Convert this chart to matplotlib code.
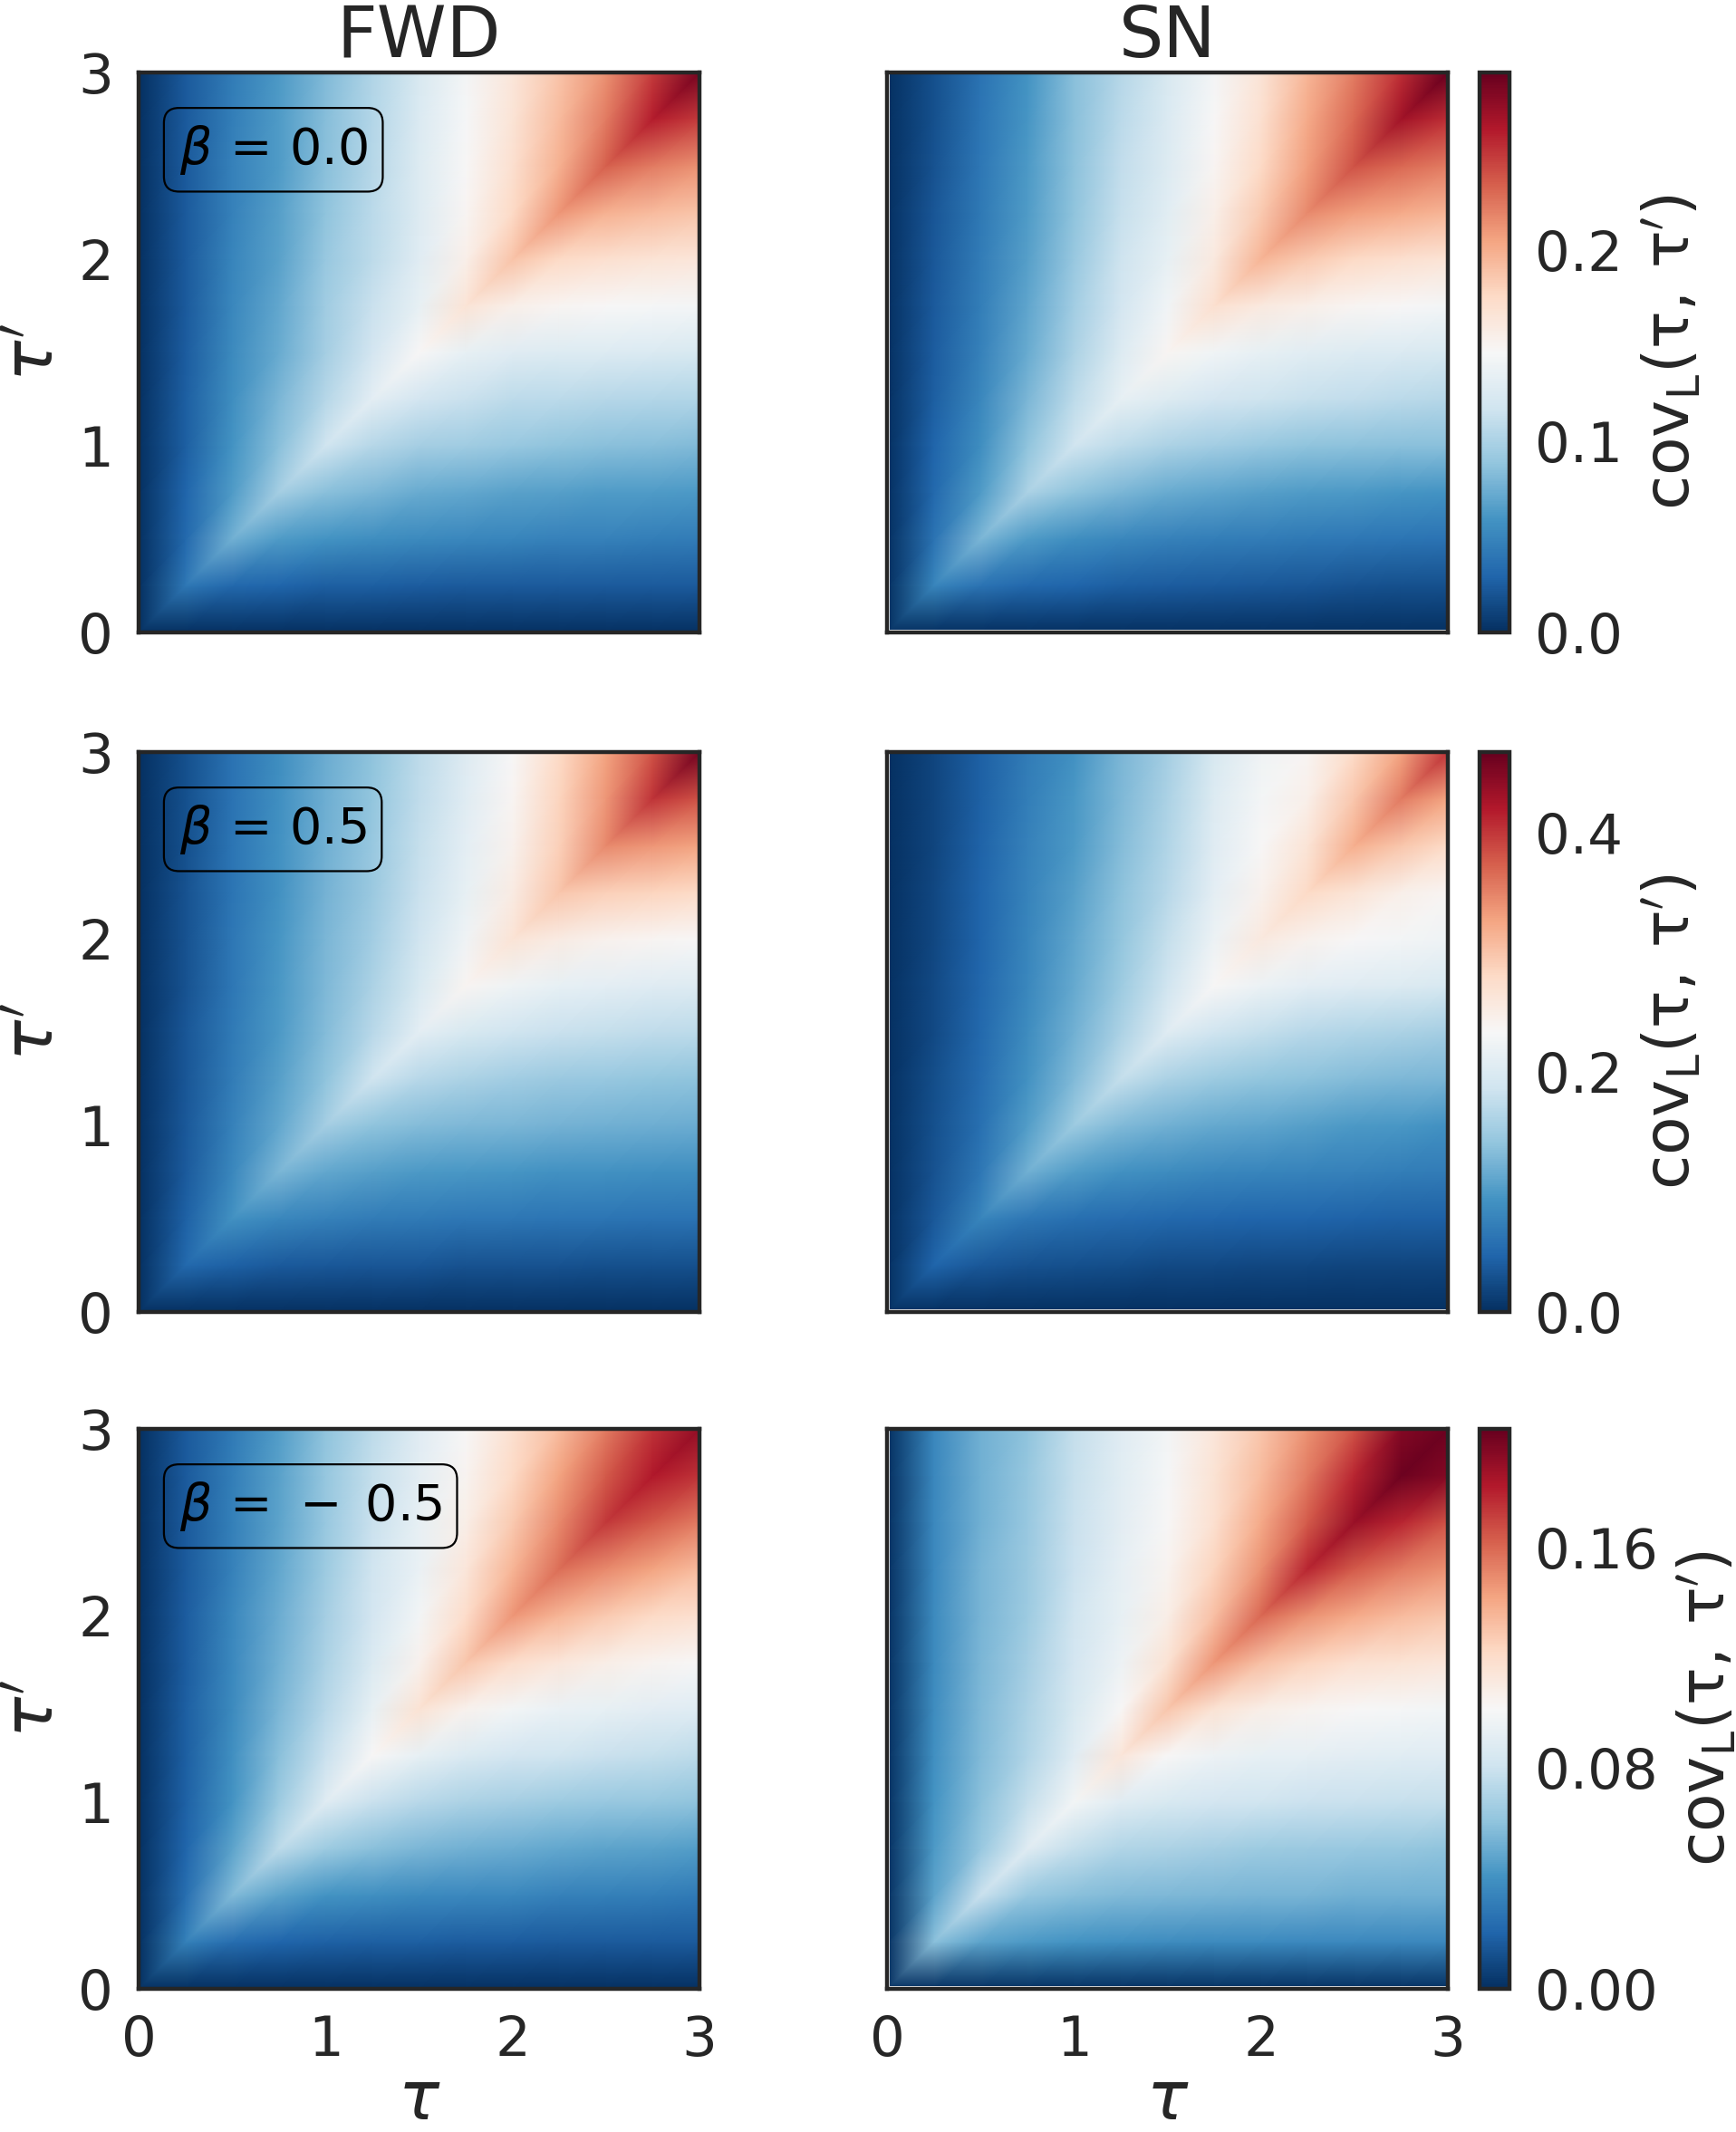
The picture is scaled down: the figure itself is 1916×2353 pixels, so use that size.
import numpy as np
import matplotlib
matplotlib.use("Agg")
import matplotlib.pyplot as plt
import matplotlib.tri as mtri
from matplotlib.patches import Rectangle
from matplotlib.ticker import FormatStrFormatter

# ---------------- data ----------------
tau_grid = [0.0, 0.25, 0.5, 0.75, 1.0, 1.25, 1.5, 1.75, 2.0, 2.25, 2.5, 2.75, 3.0]
col_titles = ["FWD", "SN"]
beta_labels = [r"$\beta\,=\,0.0$", r"$\beta\,=\,0.5$", r"$\beta\,=\,-\;0.5$"]
tick_vals = [0, 1, 2, 3]
vmax_rows = [0.293, 0.467, 0.203]
cbar_ticks = [[0.0, 0.1, 0.2], [0.0, 0.2, 0.4], [0.00, 0.08, 0.16]]
cbar_fmt = ["%.1f", "%.1f", "%.2f"]

# upper triangles: row i gives cov(tau_i, tau') for tau' = tau_i ... 3
cov_fwd_b00 = [
    [0, 0, 0, 0, 0, 0, 0, 0, 0, 0, 0, 0, 0],
    [0.041, 0.032, 0.029, 0.026, 0.026, 0.025, 0.023, 0.023, 0.023, 0.023, 0.023, 0.023],
    [0.076, 0.064, 0.059, 0.056, 0.053, 0.051, 0.050, 0.048, 0.047, 0.045, 0.044],
    [0.097, 0.085, 0.079, 0.073, 0.070, 0.067, 0.066, 0.064, 0.063, 0.062],
    [0.117, 0.105, 0.097, 0.094, 0.091, 0.088, 0.085, 0.084, 0.082],
    [0.132, 0.120, 0.114, 0.108, 0.107, 0.105, 0.104, 0.103],
    [0.147, 0.135, 0.129, 0.127, 0.126, 0.125, 0.123],
    [0.167, 0.155, 0.149, 0.147, 0.145, 0.144],
    [0.188, 0.176, 0.170, 0.167, 0.164],
    [0.211, 0.199, 0.193, 0.188],
    [0.234, 0.223, 0.214],
    [0.261, 0.249],
    [0.287],
]
cov_sn_b00 = [
    [0, 0, 0, 0, 0, 0, 0, 0, 0, 0, 0, 0, 0],
    [0.050, 0.038, 0.032, 0.029, 0.026, 0.025, 0.023, 0.022, 0.021, 0.019, 0.018, 0.018],
    [0.079, 0.064, 0.056, 0.051, 0.048, 0.045, 0.044, 0.042, 0.041, 0.040, 0.038],
    [0.100, 0.088, 0.079, 0.073, 0.069, 0.066, 0.063, 0.062, 0.060, 0.059],
    [0.117, 0.108, 0.100, 0.095, 0.091, 0.088, 0.086, 0.085, 0.085],
    [0.135, 0.126, 0.120, 0.116, 0.113, 0.110, 0.107, 0.105],
    [0.149, 0.141, 0.135, 0.130, 0.127, 0.125, 0.123],
    [0.170, 0.161, 0.155, 0.149, 0.147, 0.144],
    [0.196, 0.185, 0.176, 0.170, 0.167],
    [0.217, 0.208, 0.202, 0.196],
    [0.240, 0.231, 0.223],
    [0.270, 0.255],
    [0.293],
]
cov_fwd_b05 = [
    [0, 0, 0, 0, 0, 0, 0, 0, 0, 0, 0, 0, 0],
    [0.051, 0.042, 0.037, 0.035, 0.033, 0.033, 0.030, 0.030, 0.030, 0.028, 0.028, 0.028],
    [0.093, 0.082, 0.075, 0.070, 0.068, 0.065, 0.065, 0.063, 0.063, 0.061, 0.061],
    [0.126, 0.112, 0.105, 0.100, 0.098, 0.096, 0.093, 0.093, 0.091, 0.089],
    [0.154, 0.140, 0.133, 0.128, 0.126, 0.124, 0.121, 0.119, 0.117],
    [0.187, 0.168, 0.159, 0.152, 0.147, 0.145, 0.142, 0.140],
    [0.210, 0.196, 0.187, 0.182, 0.177, 0.175, 0.173],
    [0.238, 0.224, 0.215, 0.210, 0.205, 0.203],
    [0.266, 0.252, 0.243, 0.238, 0.234],
    [0.299, 0.290, 0.285, 0.280],
    [0.346, 0.336, 0.327],
    [0.402, 0.383],
    [0.458],
]
cov_sn_b05 = [
    [0, 0, 0, 0, 0, 0, 0, 0, 0, 0, 0, 0, 0],
    [0.047, 0.035, 0.030, 0.028, 0.026, 0.023, 0.023, 0.021, 0.021, 0.019, 0.019, 0.019],
    [0.079, 0.065, 0.058, 0.054, 0.051, 0.049, 0.047, 0.047, 0.044, 0.042, 0.042],
    [0.121, 0.103, 0.093, 0.086, 0.082, 0.079, 0.077, 0.075, 0.072, 0.070],
    [0.149, 0.131, 0.121, 0.114, 0.110, 0.105, 0.100, 0.098, 0.093],
    [0.177, 0.159, 0.149, 0.142, 0.138, 0.133, 0.128, 0.126],
    [0.205, 0.187, 0.177, 0.168, 0.163, 0.159, 0.154],
    [0.234, 0.219, 0.210, 0.205, 0.201, 0.196],
    [0.257, 0.243, 0.234, 0.229, 0.224],
    [0.280, 0.266, 0.248, 0.238],
    [0.318, 0.299, 0.280],
    [0.355, 0.327],
    [0.402],
]
cov_fwd_bm05 = [
    [0, 0, 0, 0, 0, 0, 0, 0, 0, 0, 0, 0, 0],
    [0.032, 0.024, 0.020, 0.019, 0.018, 0.018, 0.017, 0.017, 0.016, 0.016, 0.016, 0.016],
    [0.057, 0.047, 0.041, 0.039, 0.037, 0.036, 0.035, 0.033, 0.032, 0.031, 0.030],
    [0.075, 0.065, 0.059, 0.055, 0.053, 0.051, 0.049, 0.047, 0.046, 0.045],
    [0.089, 0.079, 0.073, 0.069, 0.067, 0.065, 0.063, 0.062, 0.061],
    [0.102, 0.093, 0.087, 0.083, 0.081, 0.079, 0.077, 0.075],
    [0.116, 0.106, 0.099, 0.095, 0.093, 0.091, 0.089],
    [0.130, 0.120, 0.114, 0.108, 0.104, 0.102],
    [0.146, 0.136, 0.128, 0.122, 0.118],
    [0.158, 0.150, 0.142, 0.134],
    [0.173, 0.164, 0.154],
    [0.183, 0.175],
    [0.191],
]
cov_sn_bm05 = [
    [0, 0, 0, 0, 0, 0, 0, 0, 0, 0, 0, 0, 0],
    [0.059, 0.047, 0.043, 0.041, 0.039, 0.038, 0.037, 0.037, 0.036, 0.036, 0.035, 0.035],
    [0.079, 0.063, 0.059, 0.057, 0.056, 0.055, 0.054, 0.054, 0.053, 0.053, 0.053],
    [0.089, 0.077, 0.071, 0.069, 0.067, 0.065, 0.064, 0.063, 0.062, 0.061],
    [0.099, 0.089, 0.085, 0.083, 0.081, 0.080, 0.079, 0.078, 0.077],
    [0.114, 0.102, 0.096, 0.093, 0.092, 0.091, 0.090, 0.089],
    [0.130, 0.116, 0.108, 0.104, 0.102, 0.100, 0.099],
    [0.146, 0.132, 0.124, 0.118, 0.116, 0.114],
    [0.160, 0.148, 0.140, 0.134, 0.130],
    [0.179, 0.164, 0.154, 0.148],
    [0.189, 0.179, 0.166],
    [0.201, 0.195],
    [0.201],
]

panels = [[cov_fwd_b00, cov_sn_b00],
          [cov_fwd_b05, cov_sn_b05],
          [cov_fwd_bm05, cov_sn_bm05]]


def to_matrix(upper):
    n = len(upper)
    m = np.zeros((n, n))
    for i, row in enumerate(upper):
        for k, v in enumerate(row):
            m[i, i + k] = v
            m[i + k, i] = v
    return m


# triangulation of the tau grid, split along the main diagonal direction
n = len(tau_grid)
gx, gy = np.meshgrid(tau_grid, tau_grid)
tris = []
for j in range(n - 1):
    for i in range(n - 1):
        a = j * n + i
        b = j * n + i + 1
        c = (j + 1) * n + i + 1
        d = (j + 1) * n + i
        tris.append([a, b, c])
        tris.append([a, c, d])
triang = mtri.Triangulation(gx.ravel(), gy.ravel(), np.array(tris))

# ---------------- figure ----------------
W, H, DPI = 1916, 2353, 200
fig = plt.figure(figsize=(W / DPI, H / DPI), dpi=DPI)
plt.rcParams["font.family"] = ["DejaVu Sans"]

TXT = "#262626"
SPINE_LW = 1.6
FS = 22

col_x = [153, 979]
ax_w = 619
row_top = [80, 830, 1577]
ax_h = 618
cb_x, cb_w = 1633, 33

for r in range(3):
    bottom = 1 - (row_top[r] + ax_h) / H
    coll = None
    for c in range(2):
        ax = fig.add_axes([col_x[c] / W, bottom, ax_w / W, ax_h / H])
        M = to_matrix(panels[r][c])
        coll = ax.tripcolor(triang, M.ravel(), shading="gouraud",
                            cmap="RdBu_r", vmin=0, vmax=vmax_rows[r])
        if c == 1:
            coll.set_clip_path(Rectangle((0.016, 0.016), 2.984, 2.984,
                                         transform=ax.transData))
        ax.set_xlim(0, 3)
        ax.set_ylim(0, 3)
        for s in ax.spines.values():
            s.set_color(TXT)
            s.set_linewidth(SPINE_LW)
            s.set_zorder(5)
        ax.set_xticks(tick_vals)
        ax.set_yticks(tick_vals)
        ax.tick_params(length=0, pad=10, labelsize=FS, colors=TXT)
        if r < 2:
            ax.set_xticklabels([])
        else:
            ax.set_xlabel(r"$\tau$", fontsize=27, color=TXT, labelpad=0)
        if c == 1:
            ax.set_yticklabels([])
        else:
            ax.set_ylabel(r"$\tau'$", fontsize=27, color=TXT, labelpad=4)
            ax.text(0.072, 0.862, beta_labels[r], transform=ax.transAxes,
                    fontsize=20, color="black", va="center", ha="left",
                    zorder=6,
                    bbox=dict(boxstyle="round,pad=0.3", facecolor="none",
                              edgecolor="black", linewidth=0.8))
        if r == 0:
            ax.set_title(col_titles[c], fontsize=28, color=TXT, pad=6)

    cax = fig.add_axes([cb_x / W, bottom, cb_w / W, ax_h / H])
    cb = fig.colorbar(coll, cax=cax, ticks=cbar_ticks[r])
    cb.outline.set_edgecolor(TXT)
    cb.outline.set_linewidth(SPINE_LW)
    cax.yaxis.set_major_formatter(FormatStrFormatter(cbar_fmt[r]))
    cax.tick_params(length=0, pad=10, labelsize=FS, colors=TXT)
    cb.set_label(r"$\mathrm{cov_L(\tau,\,\tau^{\prime})}$", fontsize=25,
                 color=TXT, labelpad=7)

fig.savefig("out.png", dpi=DPI)
